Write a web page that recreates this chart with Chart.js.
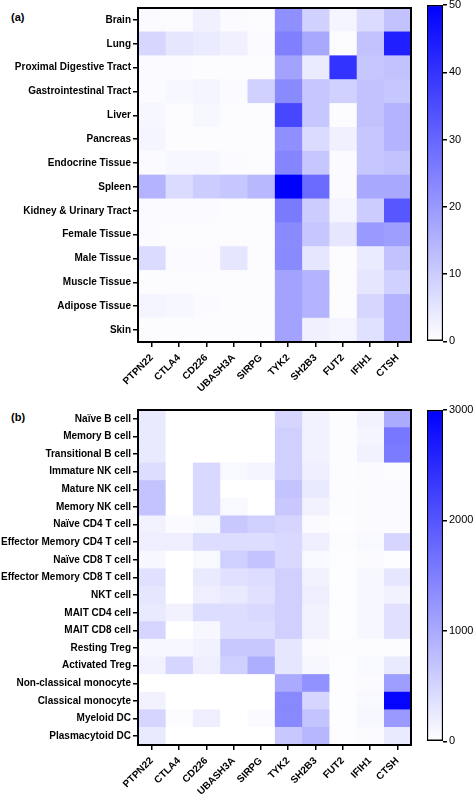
<!DOCTYPE html>
<html>
<head>
<meta charset="utf-8">
<script src="https://cdn.jsdelivr.net/npm/chart.js@4.4.0/dist/chart.umd.min.js"></script>
<style>
  body { margin: 0; background: #fff; width: 474px; height: 795px; position: relative; overflow: hidden; }
  canvas { position: absolute; }
  .tag { position: absolute; font: bold 11px "Liberation Sans", Arial, sans-serif; color: #000; }
</style>
</head>
<body>
<div class="tag" style="left:11px;top:11px">(a)</div>
<div class="tag" style="left:11px;top:411px">(b)</div>
<canvas id="heatA" width="420" height="395" style="left:0;top:0"></canvas>
<canvas id="barA" width="54" height="355" style="left:420px;top:-5px"></canvas>
<canvas id="heatB" width="420" height="395" style="left:0;top:400px"></canvas>
<canvas id="barB" width="54" height="350" style="left:420px;top:400px"></canvas>
<script>
// columns (genes)
var genes = ['PTPN22', 'CTLA4', 'CD226', 'UBASH3A', 'SIRPG', 'TYK2', 'SH2B3', 'FUT2', 'IFIH1', 'CTSH'];

// (a) tissues
var tissues = ['Brain', 'Lung', 'Proximal Digestive Tract', 'Gastrointestinal Tract', 'Liver', 'Pancreas',
  'Endocrine Tissue', 'Spleen', 'Kidney & Urinary Tract', 'Female Tissue', 'Male Tissue', 'Muscle Tissue',
  'Adipose Tissue', 'Skin'];
var tissueValues = [
  [1, 0.5, 3, 1, 0.5, 22, 9, 2, 7, 12],
  [8, 5, 4, 3, 1, 25, 17, 0.5, 12, 44],
  [1, 1, 0.5, 0.5, 0.5, 18, 4, 40, 11, 12],
  [1, 1.5, 2, 1, 9, 23, 11, 9, 12, 11],
  [1.5, 0.5, 1.5, 0.5, 0.5, 36, 11, 0.5, 12, 15],
  [2, 0.5, 0.5, 0.5, 0.5, 22, 7, 3, 11, 15],
  [1, 1.5, 1.5, 1, 0.5, 24, 11, 1, 11, 12],
  [15, 7, 10, 11, 14, 50, 29, 1, 17, 17],
  [1, 1, 1, 0.5, 0.5, 26, 10, 2, 10, 33],
  [1, 0.5, 0.5, 0.5, 0.5, 23, 11, 5, 20, 19],
  [7, 1, 1, 5, 0.5, 23, 5, 0.5, 4, 12],
  [0.5, 0.5, 0.5, 0.5, 0.5, 18, 15, 0.5, 5, 9],
  [2, 1.5, 1, 0.5, 0.5, 18, 15, 0.5, 8, 15],
  [0.5, 0.5, 0.5, 0.5, 0.5, 18, 3, 2, 6, 15]
];
var tissueTicks = [0, 10, 20, 30, 40, 50];

// (b) immune cell types
var cellTypes = ['Naïve B cell', 'Memory B cell', 'Transitional B cell', 'Immature NK cell', 'Mature NK cell',
  'Memory NK cell', 'Naïve CD4 T cell', 'Effector Memory CD4 T cell', 'Naïve CD8 T cell',
  'Effector Memory CD8 T cell', 'NKT cell', 'MAIT CD4 cell', 'MAIT CD8 cell', 'Resting Treg',
  'Activated Treg', 'Non-classical monocyte', 'Classical monocyte', 'Myeloid DC', 'Plasmacytoid DC'];
var cellValues = [
  [250, 0, 0, 0, 0, 500, 150, 40, 150, 1000],
  [250, 0, 0, 0, 0, 550, 150, 40, 120, 1600],
  [250, 0, 0, 0, 0, 550, 150, 30, 150, 1550],
  [400, 0, 450, 80, 120, 550, 200, 30, 60, 30],
  [700, 0, 450, 0, 0, 700, 250, 30, 60, 50],
  [700, 0, 450, 80, 0, 650, 150, 30, 60, 50],
  [150, 60, 100, 650, 550, 500, 60, 20, 50, 50],
  [200, 200, 400, 400, 400, 450, 200, 30, 80, 500],
  [100, 0, 80, 550, 700, 450, 80, 20, 50, 20],
  [350, 0, 250, 350, 400, 550, 150, 20, 100, 300],
  [300, 0, 200, 250, 350, 550, 200, 20, 100, 150],
  [250, 150, 400, 400, 450, 550, 150, 20, 100, 350],
  [500, 0, 100, 400, 400, 550, 150, 20, 100, 350],
  [100, 100, 150, 650, 650, 300, 50, 30, 30, 30],
  [150, 500, 200, 550, 950, 300, 100, 20, 80, 250],
  [0, 0, 0, 0, 0, 1000, 1300, 20, 60, 1150],
  [150, 0, 0, 0, 0, 1400, 500, 20, 80, 2950],
  [500, 30, 200, 0, 50, 1400, 700, 20, 100, 1200],
  [250, 0, 0, 0, 0, 650, 850, 20, 60, 250]
];
var cellTicks = [0, 1000, 2000, 3000];

var FONT = '"Liberation Sans", Arial, sans-serif';

function heatColor(v, max) {
  var t = Math.max(0, Math.min(1, v / max));
  var r = Math.round(255 * (1 - t));
  return 'rgb(' + r + ',' + r + ',255)';
}

var frame = {
  id: 'frame',
  afterDraw: function (chart) {
    var a = chart.chartArea, c = chart.ctx;
    c.save();
    c.strokeStyle = '#000';
    c.lineWidth = 2;
    c.strokeRect(a.left, a.top, a.right - a.left, a.bottom - a.top);
    c.restore();
  }
};

function heatmap(id, rows, values, max, padTop, xHeight) {
  return new Chart(document.getElementById(id), {
    type: 'bar',
    data: {
      labels: rows,
      datasets: genes.map(function (g, c) {
        return {
          label: g,
          data: rows.map(function () { return 1; }),
          backgroundColor: rows.map(function (r, i) { return heatColor(values[i][c], max); }),
          borderWidth: 0,
          barPercentage: 1,
          categoryPercentage: 1,
          xAxisID: 'x'
        };
      })
    },
    options: {
      indexAxis: 'y',
      responsive: false,
      animation: false,
      layout: { padding: { top: padTop, right: 9, left: 0, bottom: 0 } },
      plugins: { legend: { display: false }, tooltip: { enabled: false } },
      scales: {
        x: { type: 'linear', stacked: true, min: 0, max: genes.length, display: false },
        x2: {
          type: 'category', labels: genes, position: 'bottom', offset: true,
          grid: { offset: false, drawOnChartArea: false, color: '#000', lineWidth: 1.5, tickLength: 5 },
          border: { color: '#000', width: 2 },
          ticks: { color: '#000', font: { family: FONT, size: 10, weight: 'bold' }, minRotation: 45, maxRotation: 45, padding: 5 },
          afterFit: function (s) { s.height = xHeight; }
        },
        y: {
          stacked: true,
          grid: { offset: false, drawOnChartArea: false, color: '#000', lineWidth: 1.5, tickLength: 5 },
          border: { color: '#000', width: 2 },
          ticks: { color: '#000', font: { family: FONT, size: 10, weight: 'bold' }, padding: 2, autoSkip: false },
          afterFit: function (s) { s.width = 138; }
        }
      }
    },
    plugins: [frame]
  });
}

function colorbar(id, ticks, padTop, padBottom) {
  var max = ticks[ticks.length - 1];
  return new Chart(document.getElementById(id), {
    type: 'bar',
    data: {
      labels: [''],
      datasets: [{
        data: [[ticks[0], max]],
        backgroundColor: function (ctx) {
          var a = ctx.chart.chartArea;
          if (!a) return '#fff';
          var g = ctx.chart.ctx.createLinearGradient(0, a.bottom, 0, a.top);
          g.addColorStop(0, '#ffffff');
          g.addColorStop(1, '#0000ff');
          return g;
        },
        borderColor: '#000',
        borderWidth: 1.5,
        borderSkipped: false,
        barPercentage: 1,
        categoryPercentage: 1
      }]
    },
    options: {
      responsive: false,
      animation: false,
      layout: { padding: { top: padTop, bottom: padBottom, left: 7, right: 0 } },
      plugins: { legend: { display: false }, tooltip: { enabled: false } },
      scales: {
        x: { display: false },
        y: {
          position: 'right', min: ticks[0], max: max,
          afterBuildTicks: function (s) { s.ticks = ticks.map(function (v) { return { value: v }; }); },
          grid: { drawOnChartArea: false, color: '#000', lineWidth: 1.5, tickLength: 4 },
          border: { display: false },
          ticks: { color: '#000', font: { family: FONT, size: 11 }, padding: 2, callback: function (v) { return String(v); } },
          afterFit: function (s) { s.width = 31; }
        }
      }
    }
  });
}

heatmap('heatA', tissues, tissueValues, tissueTicks[tissueTicks.length - 1], 5, 53);
colorbar('barA', tissueTicks, 10, 8);
heatmap('heatB', cellTypes, cellValues, cellTicks[cellTicks.length - 1], 10, 50);
colorbar('barB', cellTicks, 10, 5);
</script>
</body>
</html>
